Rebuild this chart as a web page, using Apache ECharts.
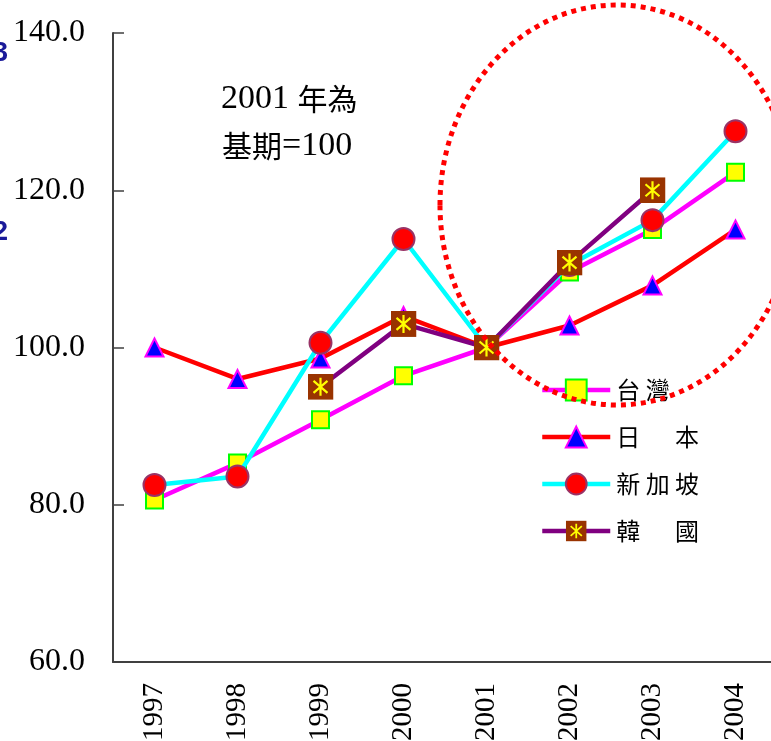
<!DOCTYPE html>
<html>
<head>
<meta charset="utf-8">
<script src="https://cdn.jsdelivr.net/npm/echarts@6/dist/echarts.min.js"></script>
<style>
  html, body { margin: 0; padding: 0; background: #fff; overflow: hidden; }
  #chart { width: 771px; height: 741px; }
</style>
</head>
<body>
<div id="chart"></div>
<script>
const years = ['1997', '1998', '1999', '2000', '2001', '2002', '2003', '2004'];
const taiwan = [80.6, 85.3, 90.8, 96.4, 100, 109.6, 115.0, 122.3];
const japan = [100, 96.0, 98.6, 104.0, 100, 102.8, 107.9, 115.0];
const singapore = [82.5, 83.6, 100.6, 113.8, 100, 110.5, 116.2, 127.5];
const korea = [null, null, 95.0, 103.0, 100, 110.8, 120.0, null];
const seriesNames = ['台 灣', '日 　 本', '新 加 坡', '韓 　 國'];
const yTicks = { min: 60, max: 140, interval: 20 };

const koreaSvg = "<svg xmlns='http://www.w3.org/2000/svg' width='26' height='26'>" +
  "<rect width='26' height='26' fill='#993300'/>" +
  "<path d='M13 4V22M6 7L20 19M20 7L6 19' stroke='#ffff00' stroke-width='2.2' fill='none'/></svg>";
const koreaSymbol = 'image://data:image/svg+xml;charset=utf-8,' + encodeURIComponent(koreaSvg);

const serif = '"Liberation Serif", "Times New Roman", serif';
const cjk = '"Noto Sans CJK TC", sans-serif';
const chart = echarts.init(document.getElementById('chart'), null, { width: 771, height: 741 });
chart.setOption({
  animation: false,
  backgroundColor: '#ffffff',
  grid: { left: 113, top: 33, width: 664, height: 629, containLabel: false, outerBoundsMode: 'none' },
  xAxis: {
    type: 'category',
    data: years,
    boundaryGap: true,
    axisLine: { lineStyle: { color: '#404040', width: 2 } },
    axisTick: { inside: true, length: 10, lineStyle: { color: '#404040', width: 1.5 } },
    axisLabel: { rotate: 90, margin: 21, fontSize: 29, color: '#000', fontFamily: serif }
  },
  yAxis: {
    type: 'value',
    min: yTicks.min, max: yTicks.max, interval: yTicks.interval,
    splitLine: { show: false },
    axisLine: { show: true, lineStyle: { color: '#404040', width: 2 } },
    axisTick: { show: true, inside: true, length: 11, lineStyle: { color: '#404040', width: 1.5 } },
    axisLabel: { margin: 28, fontSize: 32, color: '#000', fontFamily: serif,
      formatter: v => v.toFixed(1) }
  },
  legend: {
    orient: 'vertical',
    left: 535, top: 372,
    itemWidth: 68, itemHeight: 26, itemGap: 21,
    lineStyle: { width: 4.5 },
    textStyle: { fontSize: 24, color: '#000', fontFamily: cjk,
      padding: [0, 0, 0, 1], lineHeight: 26 },
    data: seriesNames
  },
  series: [
    {
      name: seriesNames[0], type: 'line', data: taiwan, z: 2,
      symbol: 'rect', symbolSize: 17,
      lineStyle: { color: '#ff00ff', width: 4.5 },
      itemStyle: { color: '#ffff00', borderColor: '#00ff00', borderWidth: 2 }
    },
    {
      name: seriesNames[1], type: 'line', data: japan, z: 3,
      symbol: 'triangle', symbolSize: 18,
      lineStyle: { color: '#ff0000', width: 4.5 },
      itemStyle: { color: '#0000ff', borderColor: '#ff00ff', borderWidth: 2 }
    },
    {
      name: seriesNames[2], type: 'line', data: singapore, z: 4,
      symbol: 'circle', symbolSize: 22,
      lineStyle: { color: '#00ffff', width: 4.5 },
      itemStyle: { color: '#ff0000', borderColor: '#993366', borderWidth: 2 }
    },
    {
      name: seriesNames[3], type: 'line', data: korea, z: 5,
      symbol: koreaSymbol, symbolSize: 26,
      lineStyle: { color: '#800080', width: 4.5 },
      itemStyle: { color: '#993300' }
    }
  ],
  graphic: [
    { type: 'ellipse', z: 100, silent: true,
      shape: { cx: 617, cy: 205, rx: 177, ry: 200 },
      style: { fill: 'none', stroke: '#ff0000', lineWidth: 5, lineDash: [5, 5] } },
    { type: 'text', x: 221, y: 99, z: 50,
      style: { text: '{d|2001 }{c|年為}', verticalAlign: 'middle',
        rich: { d: { font: '34px ' + serif, fill: '#000' },
                c: { font: '30px ' + cjk, fill: '#000' } } } },
    { type: 'text', x: 222, y: 146, z: 50,
      style: { text: '{c|基期}{d|=100}', verticalAlign: 'middle',
        rich: { d: { font: '34px ' + serif, fill: '#000' },
                c: { font: '30px ' + cjk, fill: '#000' } } } },
    { type: 'text', x: 8, y: 53, z: 50,
      style: { text: '3', font: 'bold 28px "Liberation Sans", sans-serif', fill: '#1a1a99',
        align: 'right', verticalAlign: 'middle' } },
    { type: 'text', x: 8, y: 232, z: 50,
      style: { text: '2', font: 'bold 28px "Liberation Sans", sans-serif', fill: '#1a1a99',
        align: 'right', verticalAlign: 'middle' } }
  ]
});
</script>
</body>
</html>
